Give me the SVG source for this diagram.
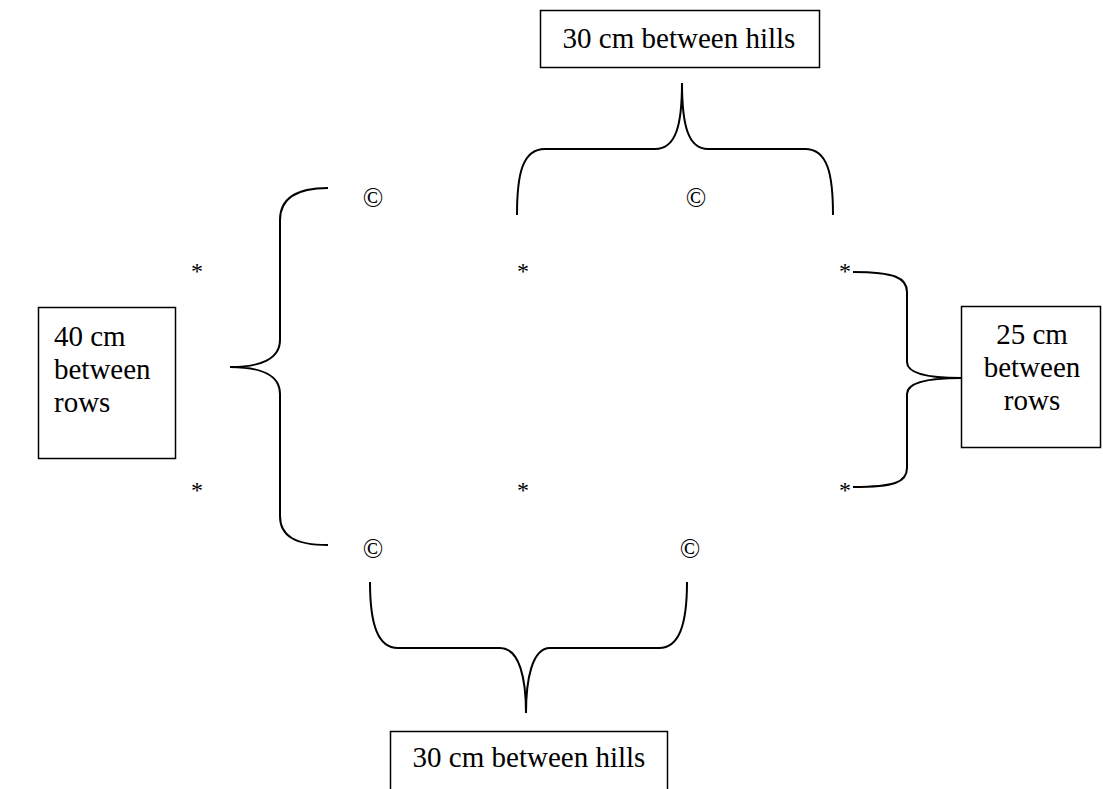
<svg xmlns="http://www.w3.org/2000/svg" width="1103" height="789" viewBox="0 0 1103 789">
<style>
.box{fill:#fff;stroke:#000;stroke-width:1.5}
.br{fill:none;stroke:#000;stroke-width:2}
text{font-family:"Liberation Serif","Times New Roman",serif;font-size:29px;fill:#000}
.c{text-anchor:middle}
.cp{font-size:27px;text-anchor:middle}
.st{font-size:24px;text-anchor:middle}
</style>
<rect width="1103" height="789" fill="#fff"/>
<g id="top-label"><rect class="box" x="540.5" y="10.5" width="279" height="57"/><text class="c" x="679" y="48">30 cm between hills</text></g>
<g id="left-label"><rect class="box" x="38.5" y="307.5" width="137" height="151"/><text x="54" y="346">40 cm</text><text x="54" y="379">between</text><text x="54" y="412">rows</text></g>
<g id="right-label"><rect class="box" x="961.5" y="306.5" width="139" height="141"/><text class="c" x="1032" y="344">25 cm</text><text class="c" x="1032" y="377">between</text><text class="c" x="1032" y="410">rows</text></g>
<g id="bottom-label"><rect class="box" x="390.5" y="731.5" width="277" height="70"/><text class="c" x="529" y="767">30 cm between hills</text></g>
<g id="plants">
<text class="cp" x="373" y="207">©</text><text class="cp" x="696" y="207">©</text>
<text class="cp" x="373" y="558">©</text><text class="cp" x="690" y="558">©</text>
<text class="st" x="197" y="279">*</text><text class="st" x="523" y="279">*</text><text class="st" x="845" y="279">*</text>
<text class="st" x="197" y="498">*</text><text class="st" x="523" y="498">*</text><text class="st" x="845" y="498">*</text>
</g>
<g id="connectors">
<path class="br" d="M517,215 C517,175 522,149 545,149 L655,149 C676,149 682,125 682,83"/>
<path class="br" d="M833,215 C833,175 828,149 805,149 L708,149 C688,149 682,125 682,83"/>
<path class="br" d="M328,188 C295,188 280,200 280,220 L280,340 C280,358 262,367 230,367 C262,367 280,376 280,394 L280,516 C280,536 295,545 328,545"/>
<path class="br" d="M853,272 C895,272 907,278 907,292 L907,362 C907,373 925,378 961,378 C925,378 907,383 907,394 L907,468 C907,482 895,487 853,487"/>
<path class="br" d="M370,582 C370,625 378,648 398,648 L500,648 C520,648 526,680 526,713"/>
<path class="br" d="M687,582 C687,625 679,648 659,648 L550,648 C532,648 526,680 526,713"/>
</g>
</svg>
